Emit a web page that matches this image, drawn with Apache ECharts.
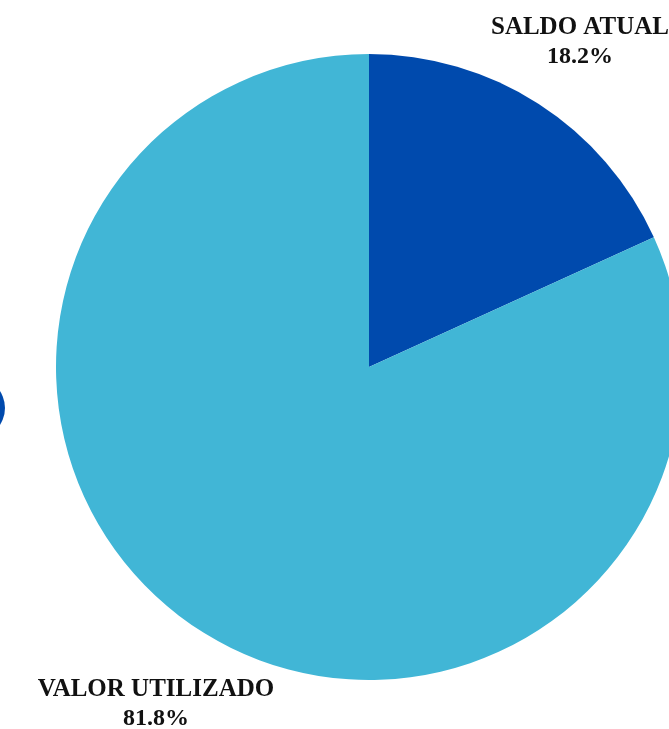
<!DOCTYPE html>
<html>
<head>
<meta charset="utf-8">
<script src="https://cdn.jsdelivr.net/npm/echarts@6/dist/echarts.min.js"></script>
<style>html,body{margin:0;padding:0;background:#fff;}#c{width:669px;height:729px;}</style>
</head>
<body>
<div id="c"></div>
<script>
var categories = ['SALDO ATUAL', 'VALOR UTILIZADO'];
var values = [18.2, 81.8];
var colors = ['#004AAD', '#41B6D6'];
var labelPos = [[580, 13], [156, 675]];

var chart = echarts.init(document.getElementById('c'), null, {renderer: 'canvas'});
chart.setOption({
  animation: false,
  graphic: [{
    type: 'circle',
    shape: {cx: -26, cy: 408, r: 31},
    style: {fill: '#004AAD'}
  }],
  series: [{
    type: 'pie',
    center: [369, 367],
    radius: [0, 313],
    startAngle: 90,
    clockwise: true,
    data: categories.map(function (c, i) {
      return {name: c, value: values[i], itemStyle: {color: colors[i]}};
    }),
    label: {
      show: true,
      position: 'outside',
      overflow: 'none',
      width: 400,
      formatter: function (p) { return '{n|' + p.name + '}\n{v|' + p.value.toFixed(1) + '%}'; },
      fontFamily: 'Liberation Serif',
      fontWeight: 'bold',
      color: '#111',
      align: 'center',
      rich: {
        n: {fontFamily: 'Liberation Serif', fontWeight: 'bold', fontSize: 25, lineHeight: 29, color: '#111', align: 'center'},
        v: {fontFamily: 'Liberation Serif', fontWeight: 'bold', fontSize: 24, lineHeight: 29, color: '#111', align: 'center'}
      }
    },
    labelLine: {show: false},
    labelLayout: function (params) {
      var p = labelPos[params.dataIndex];
      return {x: p[0], y: p[1], align: 'center', verticalAlign: 'top', hideOverlap: false};
    }
  }]
});
</script>
</body>
</html>
